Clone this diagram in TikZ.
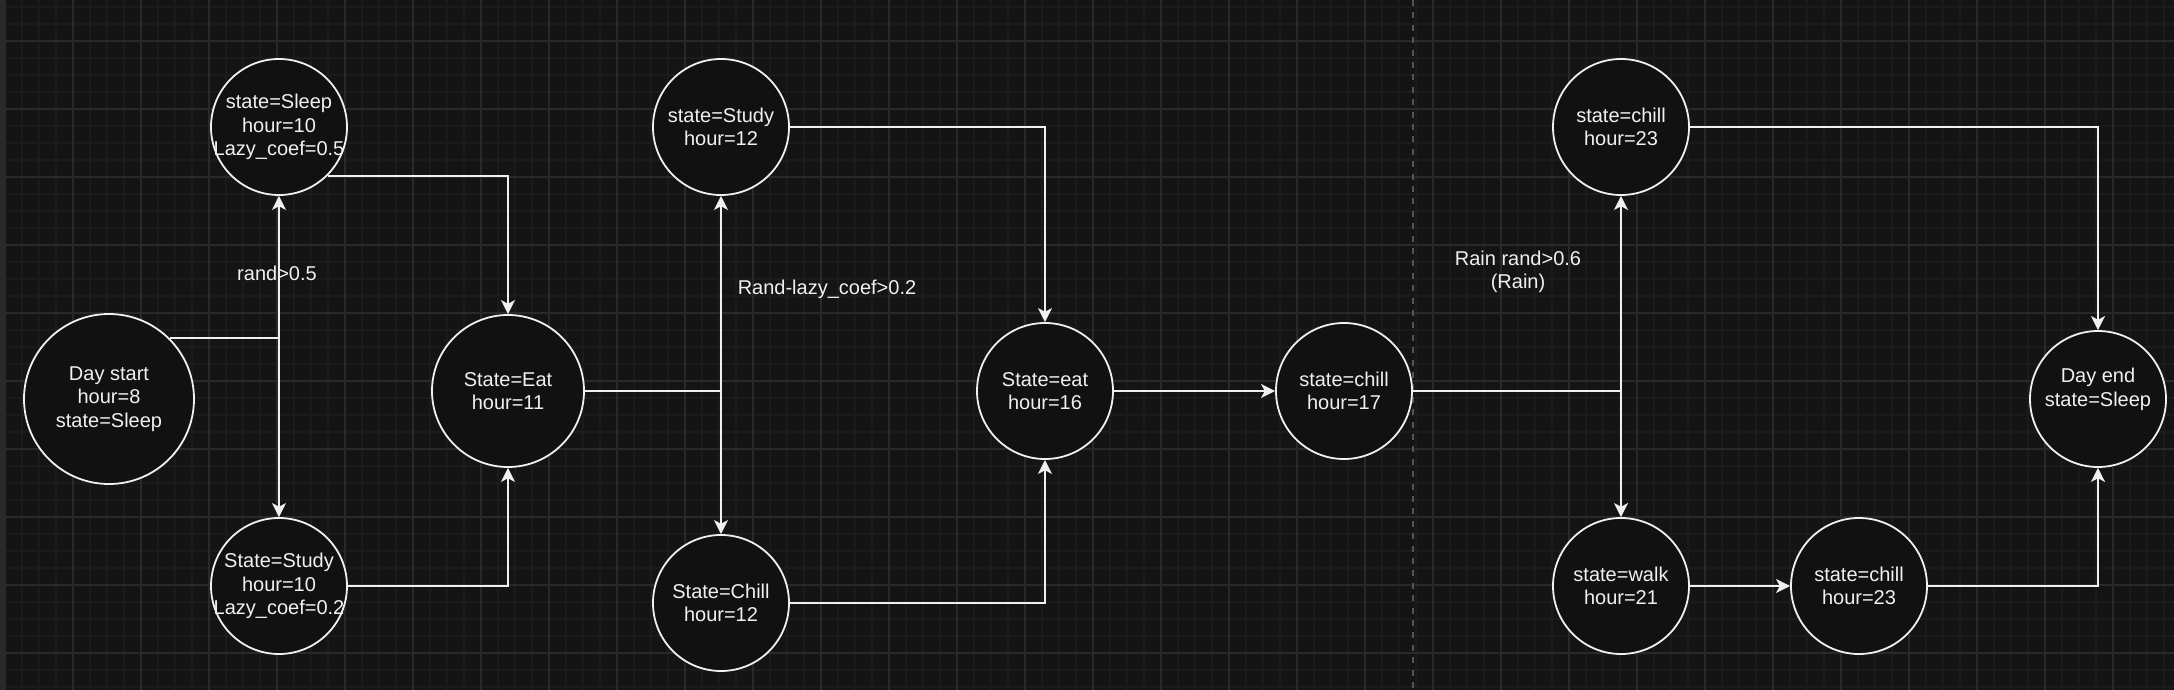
\documentclass[tikz,border=0pt]{standalone}
\usepackage{fontspec}
\setmainfont{Liberation Sans}
\usetikzlibrary{arrows.meta}
\definecolor{canvas}{HTML}{141414}
\definecolor{minorline}{HTML}{1B1B1B}
\definecolor{majorline}{HTML}{292929}
\definecolor{ink}{HTML}{F0F0F0}
\definecolor{disc}{HTML}{111111}
\definecolor{divider}{HTML}{555555}

\begin{document}
\begin{tikzpicture}[x=0.5pt,y=-0.5pt,
    state/.style={circle,draw=ink,line width=0.9pt,fill=disc,text=ink,inner sep=0pt,
      minimum size=68pt,align=center,font=\fontsize{10}{11.7}\selectfont},
    tight/.style={inner sep=-4pt},
    link/.style={draw=ink,line width=0.9pt,-{Stealth[length=7pt,width=7pt,inset=1.8pt]}},
    edgelabel/.style={text=ink,align=center,font=\fontsize{10}{11.7}\selectfont}]
      \useasboundingbox (0,0) rectangle (2174,690);
      \fill[canvas] (0,0) rectangle (2174,690);
      \foreach \gx in {5,22,...,2174} \draw[minorline,line width=0.7pt] (\gx,0) -- (\gx,690);
      \foreach \gy in {7,24,...,690} \draw[minorline,line width=0.7pt] (0,\gy) -- (2174,\gy);
      \foreach \gx in {5,73,...,2174} \draw[majorline,line width=0.8pt] (\gx,0) -- (\gx,690);
      \foreach \gy in {41,109,...,690} \draw[majorline,line width=0.8pt] (0,\gy) -- (2174,\gy);
      \fill[majorline] (0,0) rectangle (4,690);
      \draw[divider,line width=0.8pt,dash pattern=on 3pt off 3.2pt] (1413,0) -- (1413,690);

      \node[state,minimum size=85pt] (start) at (109,399) {Day start\\hour=8\\state=Sleep};
      \node[state,tight] (sleep) at (279,127) {state=Sleep\\hour=10\\Lazy\_coef=0.5};
      \node[state,tight] (study) at (279,586) {State=Study\\hour=10\\Lazy\_coef=0.2};
      \node[state,minimum size=76pt] (eat) at (508,391) {State=Eat\\hour=11};
      \node[state] (studyB) at (721,127) {state=Study\\hour=12};
      \node[state] (chill) at (721,603) {State=Chill\\hour=12};
      \node[state] (eatB) at (1045,391) {State=eat\\hour=16};
      \node[state] (chillA) at (1344,391) {state=chill\\hour=17};
      \node[state] (chillTop) at (1621,127) {state=chill\\hour=23};
      \node[state] (walk) at (1621,586) {state=walk\\hour=21};
      \node[state] (chillLow) at (1859,586) {state=chill\\hour=23};
      \node[state] (dayend) at (2098,399) {Day end\\state=Sleep\\\mbox{}};

      \node[edgelabel] (condA) at (277,273) {rand>0.5};
      \node[edgelabel] (condB) at (827,289) {Rand-lazy\_coef>0.2};
      \node[edgelabel] (condC) at (1518,272) {Rain rand>0.6\\(Rain)};

      \draw[link] (start.north east) -| (sleep);
      \draw[link] (start.north east) -| (study);
      \draw[link] (sleep.south east) -| (eat);
      \draw[link] (study.east) -| (eat);
      \draw[link] (eat.east) -| (studyB);
      \draw[link] (eat.east) -| (chill);
      \draw[link] (studyB.east) -| (eatB);
      \draw[link] (chill.east) -| (eatB);
      \draw[link] (eatB) -- (chillA);
      \draw[link] (chillA.east) -| (chillTop);
      \draw[link] (chillA.east) -| (walk);
      \draw[link] (chillTop.east) -| (dayend);
      \draw[link] (walk) -- (chillLow);
      \draw[link] (chillLow.east) -| (dayend);
    \end{tikzpicture}
\end{document}
